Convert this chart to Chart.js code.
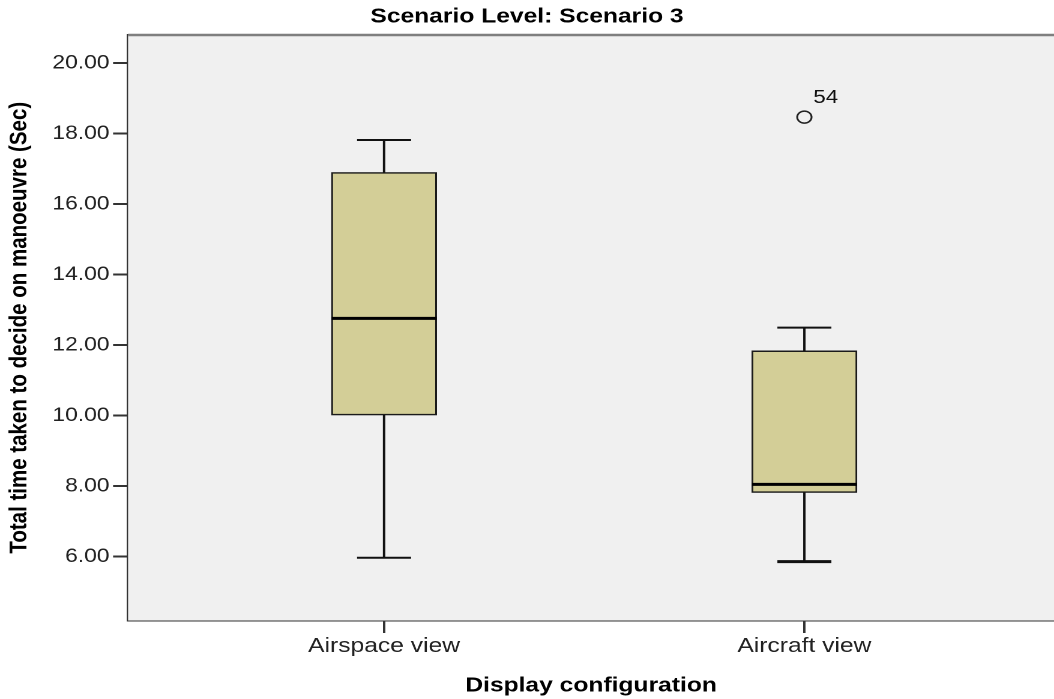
<!DOCTYPE html>
<html lang="en">
<head>
    <meta charset="UTF-8">
    <title>Scenario Level: Scenario 3</title>
    <script src="https://cdn.jsdelivr.net/npm/chart.js"></script>
    <style>
        html, body { margin: 0; padding: 0; background: #fff; overflow: hidden; }
        /* the plot is drawn narrow and stretched sideways, like the exported figure */
        #wrap { width: 878px; height: 699px; transform: scaleX(1.2005); transform-origin: 0 0; }
    </style>
</head>
<body>
    <div id="wrap"><canvas id="boxChart" width="878" height="699"></canvas></div>

    <script>
// Box plot summary per display configuration (seconds)
const categories = ['Airspace view', 'Aircraft view'];
const whiskerLow = [5.97, 5.86];
const lowerQuartile = [10.02, 7.82];
const medians = [12.76, 8.05];
const upperQuartile = [16.90, 11.84];
const whiskerHigh = [17.82, 12.50];

// Outliers: group index, value, case number
const outlierGroup = [1];
const outlierValues = [18.47];
const outlierCases = ['54'];

const yTickValues = [6, 8, 10, 12, 14, 16, 18, 20];

const FONT = "'Liberation Sans', Arial, sans-serif";

// Grey plot background with a lighter top frame line
const plotBackground = {
    id: 'plotBackground',
    beforeDatasetsDraw(chart) {
        const { ctx, chartArea: a } = chart;
        ctx.save();
        ctx.fillStyle = '#f0f0f0';
        ctx.fillRect(a.left, a.top, a.right - a.left, a.bottom - a.top);
        ctx.strokeStyle = '#7f7f7f';
        ctx.lineWidth = 2.5;
        ctx.beginPath();
        ctx.moveTo(a.left, a.top);
        ctx.lineTo(a.right, a.top);
        ctx.stroke();
        ctx.restore();
    }
};

// Whiskers, caps, medians and outlier labels
const boxExtras = {
    id: 'boxExtras',
    afterDatasetsDraw(chart) {
        const { ctx } = chart;
        const xs = chart.scales.x;
        const ys = chart.scales.y;
        const capHalf = 22.5;
        const boxHalf = 43.75;
        ctx.save();
        ctx.strokeStyle = '#111';
        categories.forEach((c, i) => {
            const cx = xs.getPixelForValue(i + 1);
            // whisker stems
            ctx.lineWidth = 2;
            ctx.beginPath();
            ctx.moveTo(cx, ys.getPixelForValue(upperQuartile[i]));
            ctx.lineTo(cx, ys.getPixelForValue(whiskerHigh[i]));
            ctx.moveTo(cx, ys.getPixelForValue(lowerQuartile[i]));
            ctx.lineTo(cx, ys.getPixelForValue(whiskerLow[i]));
            ctx.stroke();
            // caps
            ctx.lineWidth = 2;
            ctx.beginPath();
            ctx.moveTo(cx - capHalf, ys.getPixelForValue(whiskerHigh[i]));
            ctx.lineTo(cx + capHalf, ys.getPixelForValue(whiskerHigh[i]));
            ctx.stroke();
            ctx.lineWidth = i === 1 ? 3 : 2;
            ctx.beginPath();
            ctx.moveTo(cx - capHalf, ys.getPixelForValue(whiskerLow[i]));
            ctx.lineTo(cx + capHalf, ys.getPixelForValue(whiskerLow[i]));
            ctx.stroke();
            // median
            ctx.strokeStyle = '#000';
            ctx.lineWidth = 3;
            ctx.beginPath();
            ctx.moveTo(cx - boxHalf, ys.getPixelForValue(medians[i]));
            ctx.lineTo(cx + boxHalf, ys.getPixelForValue(medians[i]));
            ctx.stroke();
            ctx.strokeStyle = '#111';
        });
        ctx.fillStyle = '#111';
        ctx.font = '18.5px ' + FONT;
        ctx.textAlign = 'left';
        ctx.textBaseline = 'middle';
        outlierValues.forEach((v, i) => {
            const px = xs.getPixelForValue(outlierGroup[i] + 1);
            const py = ys.getPixelForValue(v);
            ctx.fillText(outlierCases[i], px + 7.5, py - 19);
        });
        ctx.restore();
    }
};

const ctx = document.getElementById('boxChart').getContext('2d');

new Chart(ctx, {
    type: 'bar',
    data: {
        datasets: [{
            label: 'Box',
            data: categories.map((c, i) => ({ x: i + 1, y: [lowerQuartile[i], upperQuartile[i]] })),
            backgroundColor: '#d3ce97',
            borderColor: '#1a1a1a',
            borderWidth: 1.5,
            borderSkipped: false,
            barThickness: 87.5,
            grouped: false,
            order: 2
        }, {
            type: 'scatter',
            label: 'Outliers',
            data: outlierValues.map((v, i) => ({ x: outlierGroup[i] + 1, y: v })),
            pointRadius: 6,
            pointBorderWidth: 1.5,
            pointBorderColor: '#222',
            pointBackgroundColor: 'rgba(0,0,0,0)',
            order: 1
        }]
    },
    options: {
        responsive: false,
        devicePixelRatio: 2,
        animation: false,
        layout: { padding: 0, autoPadding: false },
        plugins: {
            legend: { display: false },
            tooltip: { enabled: false },
            title: {
                display: true,
                text: 'Scenario Level: Scenario 3',
                color: '#000',
                font: { family: FONT, size: 20.5, weight: 'bold' },
                padding: { top: 4.5, bottom: 5.9 }
            }
        },
        scales: {
            x: {
                type: 'linear',
                offset: false,
                min: 0.391,
                max: 2.594,
                afterBuildTicks: scale => { scale.ticks = categories.map((c, i) => ({ value: i + 1 })); },
                afterFit: scale => { scale.height = 78.5; },
                ticks: {
                    color: '#222',
                    font: { family: FONT, size: 20.5 },
                    padding: 1,
                    maxRotation: 0,
                    autoSkip: false,
                    callback: v => categories[v - 1]
                },
                grid: { offset: false, drawOnChartArea: false, drawTicks: true, tickLength: 12.5, color: '#333', lineWidth: 2 },
                border: { display: true, color: '#333', width: 2 },
                title: {
                    display: true,
                    text: 'Display configuration',
                    color: '#000',
                    font: { family: FONT, size: 20.5, weight: 'bold' },
                    padding: { top: 0, bottom: 0.7 }
                }
            },
            y: {
                type: 'linear',
                min: 4.19,
                max: 20.8,
                afterBuildTicks: scale => { scale.ticks = yTickValues.map(v => ({ value: v })); },
                afterFit: scale => { scale.width = 106.7; },
                ticks: {
                    color: '#222',
                    font: { family: FONT, size: 19 },
                    padding: 3,
                    callback: v => v.toFixed(2)
                },
                grid: { drawOnChartArea: false, drawTicks: true, tickLength: 12.5, color: '#333', lineWidth: 2 },
                border: { display: true, color: '#333', width: 2 },
                title: {
                    display: true,
                    text: 'Total time taken to decide on manoeuvre (Sec)',
                    color: '#000',
                    font: { family: FONT, size: 20.5, weight: 'bold' },
                    padding: { top: 4, bottom: 0 }
                }
            }
        }
    },
    plugins: [plotBackground, boxExtras]
});
    </script>
</body>
</html>
